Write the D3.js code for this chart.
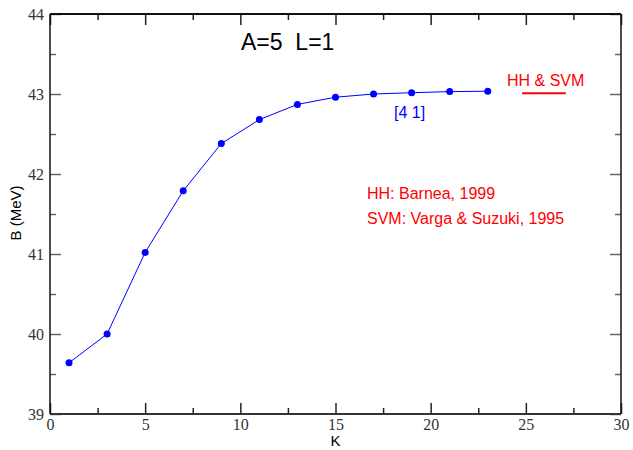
<!DOCTYPE html>
<html>
<head>
<meta charset="utf-8">
<script src="https://cdn.jsdelivr.net/npm/d3@7"></script>
<style>
  body { margin: 0; background: #fff; }
  svg { display: block; }
</style>
</head>
<body>
<svg id="chart"></svg>
<script>
// Data: binding energy vs K for [4 1] symmetry
const kValues = [1, 3, 5, 7, 9, 11, 13, 15, 17, 19, 21, 23];
const bValues = [39.64, 40.0, 41.02, 41.79, 42.38, 42.68, 42.87, 42.96, 43.0, 43.016, 43.03, 43.035];
const xTicks = [0, 5, 10, 15, 20, 25, 30];
const yTicks = [39, 40, 41, 42, 43, 44];
const legendLine = [24.8, 27.1]; // K range of the red HH & SVM sample
const hhSvmValue = 43.01;

const W = 633, H = 450;
const margin = { top: 14, right: 12, bottom: 36, left: 50 };

const svg = d3.select("#chart")
  .attr("width", W)
  .attr("height", H);

const x = d3.scaleLinear().domain([0, 30]).range([margin.left, W - margin.right]);
const y = d3.scaleLinear().domain([39, 44]).range([H - margin.bottom, margin.top]);

const minorX = d3.range(2.5, 30, 5);
const minorY = d3.range(39.5, 44, 1);
const serif = "'Liberation Serif', 'Times New Roman', 'DejaVu Serif', serif";
const sans = "'Liberation Sans', Arial, sans-serif";

// minor ticks first, then major axes on top
function drawAxis(axisFn, scale, transform, ticks, size, color, labels) {
  const g = svg.append("g")
    .attr("transform", transform)
    .call(axisFn(scale).tickValues(ticks).tickSize(size).tickPadding(labels ? 6 : 0)
      .tickFormat(labels ? d3.format("d") : ""));
  g.attr("font-family", serif).attr("font-size", 16);
  g.select(".domain").remove();
  g.selectAll(".tick line").attr("stroke", color).attr("stroke-width", 1.5);
  g.selectAll(".tick text")
    .attr("fill", "#333")
    .style("font-family", serif)
    .style("font-size", "16px");
  return g;
}

const bottomY = y.range()[0], topY = y.range()[1];
const leftX = x.range()[0], rightX = x.range()[1];

// bottom
drawAxis(d3.axisBottom, x, `translate(0,${bottomY})`, minorX, -6, "#222", false);
const gx = drawAxis(d3.axisBottom, x, `translate(0,${bottomY})`, xTicks, -11, "#222", true);
gx.selectAll(".tick text").attr("y", 5);
// top
drawAxis(d3.axisTop, x, `translate(0,${topY})`, minorX, -6, "#222", false);
drawAxis(d3.axisTop, x, `translate(0,${topY})`, xTicks, -11, "#222", false);
// left
drawAxis(d3.axisLeft, y, `translate(${leftX},0)`, minorY, -6, "#666", false);
const gy = drawAxis(d3.axisLeft, y, `translate(${leftX},0)`, yTicks, -11, "#666", true);
gy.selectAll(".tick text").attr("x", -6);
// right
drawAxis(d3.axisRight, y, `translate(${rightX},0)`, minorY, -6, "#666", false);
drawAxis(d3.axisRight, y, `translate(${rightX},0)`, yTicks, -11, "#666", false);

// frame
svg.append("line").attr("x1", leftX).attr("x2", rightX).attr("y1", bottomY).attr("y2", bottomY)
  .attr("stroke", "#333").attr("stroke-width", 2);
svg.append("line").attr("x1", leftX).attr("x2", rightX).attr("y1", topY).attr("y2", topY)
  .attr("stroke", "#111").attr("stroke-width", 2);
svg.append("line").attr("x1", leftX).attr("x2", leftX).attr("y1", topY).attr("y2", bottomY)
  .attr("stroke", "#111").attr("stroke-width", 1.5);
svg.append("line").attr("x1", rightX).attr("x2", rightX).attr("y1", topY).attr("y2", bottomY)
  .attr("stroke", "#111").attr("stroke-width", 1.5);

// axis titles
svg.append("text")
  .attr("x", (leftX + rightX) / 2)
  .attr("y", 446)
  .attr("text-anchor", "middle")
  .style("font-family", sans)
  .style("font-size", "15px")
  .text("K");

svg.append("text")
  .attr("transform", `translate(21,${(topY + bottomY) / 2 - 1}) rotate(-90)`)
  .attr("text-anchor", "middle")
  .style("font-family", sans)
  .style("font-size", "15px")
  .text("B (MeV)");

// data line and points
const data = kValues.map((k, i) => ({ k: k, b: bValues[i] }));

svg.append("path")
  .datum(data)
  .attr("fill", "none")
  .attr("stroke", "#0000ff")
  .attr("stroke-width", 1)
  .attr("d", d3.line().x(d => x(d.k)).y(d => y(d.b)));

svg.selectAll("circle.pt")
  .data(data)
  .enter()
  .append("circle")
  .attr("class", "pt")
  .attr("cx", d => x(d.k))
  .attr("cy", d => y(d.b))
  .attr("r", 3.5)
  .attr("fill", "#0000ff");

// HH & SVM legend line
svg.append("line")
  .attr("x1", x(legendLine[0]))
  .attr("x2", x(legendLine[1]))
  .attr("y1", y(hhSvmValue))
  .attr("y2", y(hhSvmValue))
  .attr("stroke", "#ff0000")
  .attr("stroke-width", 2);

// annotations
svg.append("text").attr("x", 241).attr("y", 50)
  .style("font-family", sans).style("font-size", "23px")
  .style("white-space", "pre")
  .text("A=5  L=1");

svg.append("text").attr("x", 507).attr("y", 86)
  .style("font-family", sans).style("font-size", "16px").attr("fill", "#ff0000")
  .text("HH & SVM");

svg.append("text").attr("x", 394).attr("y", 118)
  .style("font-family", sans).style("font-size", "16px").attr("fill", "#0000ff")
  .text("[4 1]");

svg.append("text").attr("x", 367).attr("y", 199)
  .style("font-family", sans).style("font-size", "16px").attr("fill", "#ff0000")
  .text("HH: Barnea, 1999");

svg.append("text").attr("x", 367).attr("y", 224)
  .style("font-family", sans).style("font-size", "16px").attr("fill", "#ff0000")
  .text("SVM: Varga & Suzuki, 1995");
</script>
</body>
</html>
